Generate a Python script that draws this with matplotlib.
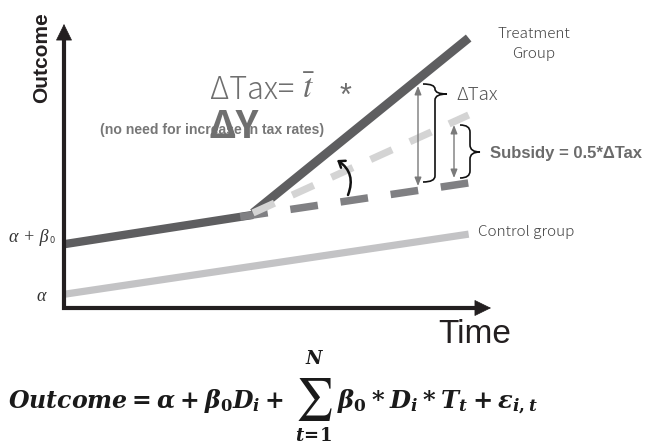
import matplotlib
matplotlib.use("Agg")
import matplotlib.pyplot as plt
from matplotlib.path import Path
from matplotlib.patches import PathPatch, FancyArrowPatch

plt.rcParams["lines.scale_dashes"] = False

# schematic values: time runs 0..10, outcome 0..10
T_START = 0.05
T_POLICY = 4.45
T_END = 9.5

treat_pre_t = [T_START, T_POLICY]
treat_pre_y = [2.26, 3.29]

treat_post_t = [T_POLICY, T_END]
treat_post_y = [3.36, 9.54]

# counterfactual path without the policy
counter_t = [4.15, T_END]
counter_y = [3.22, 4.42]

# path with the subsidy only
subsidy_t = [T_POLICY, T_END]
subsidy_y = [3.36, 6.82]

control_t = [T_START, T_END]
control_y = [0.49, 2.61]

W, H = 647, 444
fig = plt.figure(figsize=(W / 100, H / 100), dpi=100)

# chart area between the two axis arrows
x0_px, x1_px, y0_px, y1_px = 63, 490, 308, 25
ax = fig.add_axes([x0_px / W, (H - y0_px) / H, (x1_px - x0_px) / W, (y0_px - y1_px) / H])
ax.set_xlim(0, 10)
ax.set_ylim(0, 10)
ax.axis("off")

ax.plot(control_t, control_y, color="#c3c3c5", lw=5.2, solid_capstyle="butt")
ax.plot(treat_pre_t, treat_pre_y, color="#5e5e60", lw=6, solid_capstyle="butt")
ax.plot(treat_post_t, treat_post_y, color="#5e5e60", lw=6.4, solid_capstyle="butt")
ax.plot(counter_t, counter_y, color="#808083", lw=5.4, dashes=(20, 16.5), dash_capstyle="butt")
ax.plot(subsidy_t, subsidy_y, color="#d4d4d4", lw=5.2, dashes=(17, 14), dash_capstyle="butt")

# overlay in pixel units for arrows, braces and labels
ov = fig.add_axes([0, 0, 1, 1], facecolor="none")
ov.set_xlim(0, W)
ov.set_ylim(H, 0)
ov.axis("off")

axis_col = "#231f20"
ov.plot([64, 64, 478], [36, 308, 308], color=axis_col, lw=3, solid_joinstyle="miter",
        solid_capstyle="butt")
for start, end in [((64, 60), (64, 24)), ((450, 308), (491, 308))]:
    ov.annotate("", xy=end, xytext=start,
                arrowprops=dict(arrowstyle="-|>,head_length=0.55,head_width=0.27",
                                color=axis_col, lw=0.5, mutation_scale=20,
                                shrinkA=0, shrinkB=0))

ov.text(42, 58, "Outcome", rotation=90, ha="center", va="center", fontsize=15,
        fontweight="bold", family="Liberation Sans", color="#231f20")
ov.text(475, 334, "Time", ha="center", va="center", fontsize=24,
        family="Liberation Sans", color="#231f20")

ov.text(29, 237, "α + β", ha="center", va="center", fontsize=13, style="italic",
        family="Liberation Serif", color="#333333")
ov.text(52, 240, "0", ha="center", va="center", fontsize=6, family="DejaVu Sans",
        color="#333333")
ov.text(41, 296, "α", ha="center", va="center", fontsize=13, style="italic",
        family="Liberation Serif", color="#333333")

label_font = ["Noto Sans CJK JP", "DejaVu Sans"]
ov.text(534, 44, "Treatment\nGroup", ha="center", va="center", fontsize=11,
        family=label_font, fontweight="light", color="#444444", linespacing=1.6)
ov.text(478, 232, "Control group", ha="left", va="center", fontsize=11,
        family=label_font, fontweight="light", color="#444444")

big_col = "#6f6f6f"
ov.text(100, 130, "(no need for increase in tax rates)", ha="left", va="center",
        fontsize=10.1, fontweight="bold", family="Liberation Sans", color="#777777", zorder=2)
ov.text(210, 90, "ΔTax=", ha="left", va="center", fontsize=22, family=label_font,
        fontweight="light", color=big_col)
ov.text(302, 89, r"$\bar{t}$", ha="left", va="center", fontsize=24, math_fontfamily="stix",
        color=big_col)
ov.text(346, 97, "*", ha="center", va="center", fontsize=22, family="Liberation Sans",
        color=big_col)
ov.text(209, 126, "ΔY", ha="left", va="center", fontsize=28, family=label_font,
        fontweight="bold", color=big_col, zorder=3)

# double headed arrows for the two gaps
for x, ya, yb in [(418, 86, 186), (454, 125, 178)]:
    ov.annotate("", xy=(x, ya), xytext=(x, yb),
                arrowprops=dict(arrowstyle="<|-|>,head_length=0.5,head_width=0.2",
                                color="#7a7a7a", lw=1, mutation_scale=10,
                                shrinkA=0, shrinkB=0))


def brace(axes, x0, y_top, y_bot, y_tip, width, r_top, r_bot):
    xm = x0 + width / 2
    xt = x0 + width
    verts = [(x0, y_top), (xm, y_top), (xm, y_top + r_top),
             (xm, y_tip - r_top), (xm, y_tip), (xt, y_tip),
             (xm, y_tip), (xm, y_tip + r_bot),
             (xm, y_bot - r_bot), (xm, y_bot), (x0, y_bot)]
    codes = [Path.MOVETO, Path.CURVE3, Path.CURVE3,
             Path.LINETO, Path.CURVE3, Path.CURVE3,
             Path.CURVE3, Path.CURVE3,
             Path.LINETO, Path.CURVE3, Path.CURVE3]
    axes.add_patch(PathPatch(Path(verts, codes), fill=False, lw=1.2, color="#111111"))


brace(ov, 423, 84, 182, 94, 24, 5, 6)
brace(ov, 460, 125, 178, 152, 20, 7, 7)

ov.text(456, 95, "ΔTax", ha="left", va="center", fontsize=13.5, family=label_font,
        fontweight="light", color="#555555")
ov.text(490, 153, "Subsidy = 0.5*ΔTax", ha="left", va="center", fontsize=12,
        fontweight="bold", family=["Liberation Sans", "DejaVu Sans"], color="#6b6b6b")

# rotation arrow between the counterfactual and the subsidy path
ov.add_patch(FancyArrowPatch((348, 195), (337, 160), connectionstyle="arc3,rad=0.4",
                             arrowstyle="->,head_length=4,head_width=3", lw=1.8,
                             color="#111111", shrinkA=0, shrinkB=0))

# regression equation
plt.rcParams["mathtext.fontset"] = "custom"
plt.rcParams["mathtext.it"] = "DejaVu Serif:italic:bold"
plt.rcParams["mathtext.rm"] = "DejaVu Serif:bold"
plt.rcParams["mathtext.bf"] = "DejaVu Serif:bold"
eq_col = "#1a1a1a"
ov.text(284, 408, r"$Outcome = \alpha + \beta_0 D_i +$", ha="right", va="baseline",
        fontsize=17, color=eq_col, math_fontfamily="custom")
ov.text(314, 399, r"$\sum$", ha="center", va="center", fontsize=30, color=eq_col,
        math_fontfamily="stix")
ov.text(315, 359, r"$N$", ha="center", va="center", fontsize=13, color=eq_col,
        math_fontfamily="custom")
ov.text(314, 436, r"$t\!=\!1$", ha="center", va="center", fontsize=13, color=eq_col,
        math_fontfamily="custom")
ov.text(337, 408, r"$\beta_0 * D_i * T_t + \varepsilon_{i,t}$", ha="left", va="baseline",
        fontsize=17.5, color=eq_col, math_fontfamily="custom")

fig.savefig("out.png", dpi=100)
